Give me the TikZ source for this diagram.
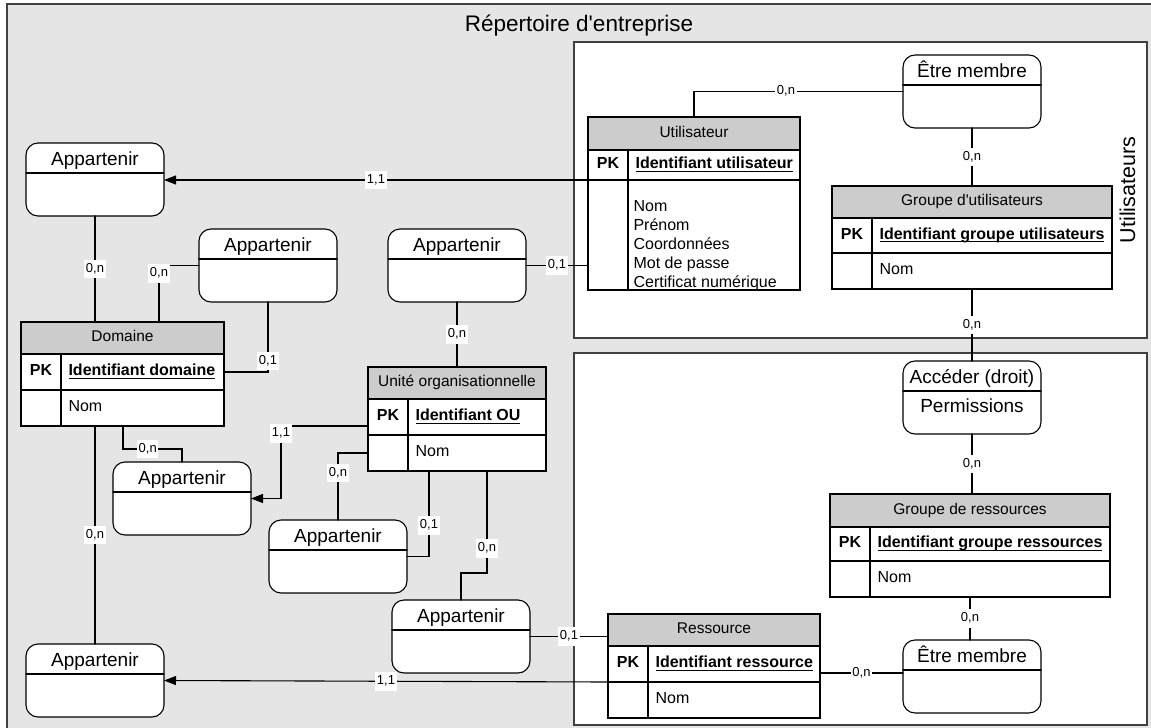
\documentclass[tikz,border=0pt]{standalone}
\usepackage{fontspec}
\setmainfont{Liberation Sans}
\usetikzlibrary{arrows.meta,calc,positioning}
\definecolor{fondgris}{RGB}{229,229,229}
\definecolor{entetegris}{RGB}{204,204,204}
\definecolor{traitgris}{RGB}{64,64,64}
\newsavebox\clebox
\newcommand{\clepk}[1]{\sbox\clebox{#1}\rlap{\rule[-3pt]{\wd\clebox}{1.1pt}}\usebox\clebox}

\begin{document}
\begin{tikzpicture}[x=1pt,y=-1pt,line width=1.1pt,line cap=round,
 >={Triangle[length=12pt,width=9pt]},
 entete/.style={draw,fill=entetegris,outer sep=0pt,inner sep=0pt,
  font=\fontsize{15.5}{18}\selectfont,text height=11.5pt,text depth=4pt},
 cellule/.style={draw,fill=white,outer sep=0pt,inner sep=0pt},
 pkcell/.style={cellule,minimum width=40,font=\bfseries\fontsize{16}{19}\selectfont,
  text height=11.5pt,text depth=4pt},
 cletxt/.style={inner sep=0pt,anchor=west,font=\bfseries\fontsize{16}{19}\selectfont,
  text height=11.5pt,text depth=4pt},
 attrtxt/.style={inner sep=0pt,font=\fontsize{16}{19}\selectfont},
 assoc/.style={draw,fill=white,rounded corners=12pt,outer sep=0pt,
  minimum width=138,minimum height=73,anchor=north west},
 assoctxt/.style={inner sep=0pt,anchor=base,font=\fontsize{19}{22}\selectfont},
 card/.style={fill=white,inner xsep=1.5pt,inner ysep=3pt,
  font=\fontsize{13}{15}\selectfont,text height=9.5pt,text depth=3pt},
 cadre/.style={draw=traitgris,line width=1.3pt}]
\useasboundingbox (0,0) rectangle (1151,728);
% fond et zones
\fill[fondgris] (7,4) rectangle (1151,728);
\draw[cadre] (1151,4) -- (7,4) -- (7,728);
\draw[cadre,fill=white] (574,42) rectangle (1147,338);
\draw[cadre,fill=white] (574,353) rectangle (1147,725);
\node[anchor=base,font=\fontsize{22.5}{26}\selectfont] (titre) at (579,31)
 {Répertoire d\textquotesingle entreprise};
\node[rotate=90,anchor=base,font=\fontsize{21.5}{25}\selectfont] (zoneutil)
 at (1135,190) {Utilisateurs};
% entites
\foreach \n/\x/\y/\w/\hd/\ky/\hh/\ph/\ah in {
 util/588/117/212/Utilisateur/Identifiant utilisateur/33/30/110,
 grpu/832/186/280/Groupe d\textquotesingle utilisateurs/Identifiant groupe utilisateurs/32/35/36,
 grpr/830/494/280/Groupe de ressources/Identifiant groupe ressources/33/34/36,
 res/608/614/212/Ressource/Identifiant ressource/32/36/36,
 dom/21/322/203/Domaine/Identifiant domaine/32/36/36,
 ou/368/367/178/Unité organisationnelle/Identifiant OU/32/36/36}{
 \pgfmathsetmacro\kw{\w-40}
 \node[entete,minimum width=\w,minimum height=\hh,anchor=north west] (\n) at (\x,\y) {\hd};
 \node[pkcell,minimum height=\ph,anchor=north west] (\n-pk) at (\n.south west) {PK};
 \node[cellule,minimum width=\kw,minimum height=\ph,anchor=north west] (\n-key) at (\n-pk.north east) {};
 \node[cellule,minimum width=40,minimum height=\ah,anchor=north west] (\n-e) at (\n-pk.south west) {};
 \node[cellule,minimum width=\kw,minimum height=\ah,anchor=north west] (\n-att) at (\n-e.north east) {};
 \node[cletxt] (\n-cle) at ([xshift=7]\n-key.west) {\clepk{\ky}};
}
\foreach \n in {grpu,grpr,res,dom,ou}
 \node[attrtxt,anchor=west,text height=11.5pt,text depth=4pt] (\n-nom) at ([xshift=7]\n-att.west) {Nom};
\node[attrtxt,anchor=north west,align=left] (util-liste) at ([xshift=5,yshift=-20]util-att.north west)
 {Nom\\Prénom\\Coordonnées\\Mot de passe\\Certificat numérique};
% associations
\foreach \n/\x/\y/\nom in {appUD/26/143/Appartenir, appDD/199/229/Appartenir,
 appUO/388/229/Appartenir, appOD/113/462/Appartenir, appOO/269/520/Appartenir,
 appRO/392/600/Appartenir, appRD/26/644/Appartenir, membreU/903/55/{Être membre},
 acces/903/361/{Accéder (droit)}, membreR/903/640/{Être membre}}{
 \node[assoc] (\n) at (\x,\y) {};
 \draw ([yshift=-30]\n.north west) -- ([yshift=-30]\n.north east);
 \node[assoctxt] (\n-nom) at ([yshift=-22]\n.north) {\nom};
}
\node[assoctxt] (acces-perm) at ([yshift=-51]acces.north) {Permissions};
\coordinate (membreR-g) at ([yshift=3.5]membreR.west);
% liaisons
\draw (util.north) |- node[card,pos=0.72]{0,n} (membreU.west);
\draw (membreU.south) -- node[card]{0,n} (grpu.north);
\draw[->] (util-pk.south west) -- node[card]{1,1} (util-pk.south west -| appUD.east);
\draw (appUD.south) -- node[card]{0,n} (appUD.south |- dom.north);
\draw ([xshift=138]dom.north west) |- node[card,pos=0.43]{0,n} (appDD.west);
\draw (appDD.south) |- node[card,pos=0.42]{0,1} (dom-key.east);
\draw (appUO.east) -- node[card]{0,1} (appUO.east -| util.west);
\draw (appUO.south) -- node[card]{0,n} (ou.north);
\draw ([xshift=62]dom-att.south west) |- node[card,pos=0.71]{0,n} ([yshift=13]appOD.north) -- (appOD.north);
\draw (appRD.north |- dom-e.south) -- node[card]{0,n} (appRD.north);
\draw[->] ([yshift=-9]ou-pk.west) -| node[card,pos=0.55]{1,1} ([xshift=30]appOD.east) -- (appOD.east);
\draw (ou-e.west) -| node[card,pos=0.65]{0,n} (appOO.north);
\draw ([xshift=21]ou-att.south west) |- node[card,pos=0.32]{0,1} (appOO.east);
\draw ([xshift=79]ou-att.south west) |- node[card,pos=0.38]{0,n} ([yshift=27]appRO.north) -- (appRO.north);
\draw (appRO.east) -- node[card]{0,1} (appRO.east -| res.west);
\draw[->] (res-pk.south west) -- node[card]{1,1} (appRD.east);
\draw (membreR-g -| res.east) -- node[card]{0,n} (membreR-g);
\draw (grpr.south |- grpr-att.south) -- node[card]{0,n} (grpr.south |- membreR.north);
\draw (grpu.south |- grpu-att.south) -- node[card]{0,n} (grpu.south |- acces.north);
\draw (acces.south) -- node[card]{0,n} (acces.south |- grpr.north);
\end{tikzpicture}
\end{document}
